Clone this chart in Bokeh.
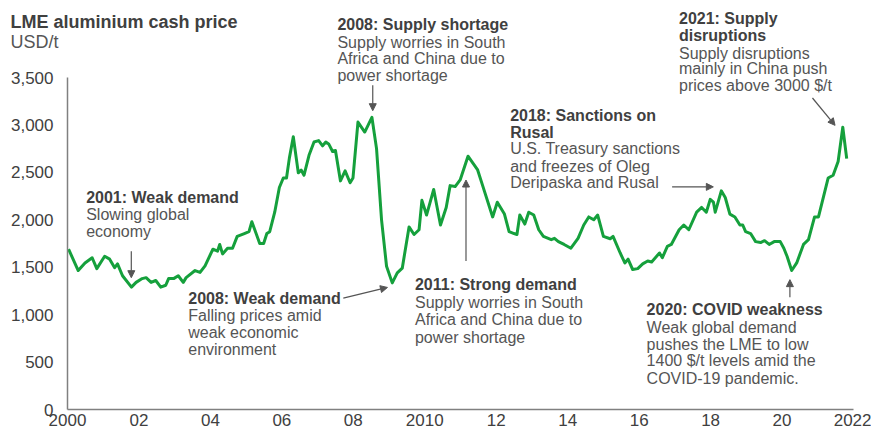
from bokeh.plotting import figure
from bokeh.models import Label, Arrow, NormalHead, FixedTicker, NumeralTickFormatter, Range1d
from bokeh.embed import file_html
from bokeh.resources import INLINE

# ---- data ----
years = [2000.03, 2000.30, 2000.49, 2000.69, 2000.82, 2001.04, 2001.18, 2001.32, 2001.40, 2001.54,
         2001.79, 2001.92, 2002.09, 2002.20, 2002.34, 2002.47, 2002.61, 2002.75, 2002.83, 2002.97,
         2003.10, 2003.24, 2003.32, 2003.57, 2003.71, 2003.85, 2004.07, 2004.20, 2004.26, 2004.34,
         2004.48, 2004.62, 2004.75, 2004.95, 2005.08, 2005.16, 2005.38, 2005.49, 2005.58, 2005.66,
         2005.80, 2005.93, 2006.04, 2006.13, 2006.21, 2006.32, 2006.46, 2006.54, 2006.62, 2006.76,
         2006.90, 2007.03, 2007.14, 2007.23, 2007.31, 2007.42, 2007.50, 2007.64, 2007.77, 2007.91,
         2007.99, 2008.13, 2008.32, 2008.52, 2008.65, 2008.79, 2008.93, 2009.09, 2009.23, 2009.37,
         2009.56, 2009.70, 2009.84, 2009.92, 2010.05, 2010.25, 2010.44, 2010.60, 2010.71, 2010.85,
         2010.99, 2011.21, 2011.48, 2011.62, 2011.90, 2012.03, 2012.23, 2012.36, 2012.50, 2012.58,
         2012.66, 2012.80, 2012.91, 2013.05, 2013.19, 2013.32, 2013.54, 2013.63, 2013.74, 2013.90,
         2014.09, 2014.29, 2014.45, 2014.59, 2014.73, 2014.84, 2015.00, 2015.19, 2015.27, 2015.47,
         2015.60, 2015.69, 2015.82, 2015.96, 2016.10, 2016.24, 2016.35, 2016.57, 2016.65, 2016.79,
         2016.90, 2017.12, 2017.25, 2017.39, 2017.61, 2017.75, 2017.88, 2017.99, 2018.08, 2018.13,
         2018.30, 2018.41, 2018.54, 2018.68, 2018.82, 2018.90, 2018.98, 2019.12, 2019.26, 2019.40,
         2019.51, 2019.64, 2019.78, 2019.95, 2020.05, 2020.14, 2020.27, 2020.41, 2020.60, 2020.74,
         2020.91, 2021.02, 2021.29, 2021.43, 2021.57, 2021.70, 2021.81]
prices = [1690, 1465, 1545, 1600, 1485, 1615, 1585, 1495, 1535, 1410,
          1290, 1340, 1380, 1390, 1340, 1360, 1290, 1310, 1380, 1380,
          1410, 1340, 1390, 1465, 1445, 1515, 1690, 1670, 1740, 1640,
          1700, 1700, 1825, 1855, 1875, 1980, 1750, 1750, 1855, 1875,
          2080, 2340, 2440, 2440, 2650, 2875, 2495, 2525, 2470, 2680,
          2820, 2835, 2780, 2820, 2800, 2720, 2730, 2410, 2515, 2390,
          2440, 3030, 2925, 3080, 2750, 2000, 1510, 1335, 1440, 1490,
          1925, 1845, 1895, 2205, 2050, 2320, 1945, 2130, 2360, 2350,
          2420, 2670, 2525, 2360, 2030, 2185, 2060, 1875, 1855, 1845,
          2050, 1955, 2080, 2050, 1895, 1825, 1790, 1805, 1770, 1740,
          1700, 1805, 1945, 2030, 2000, 2050, 1825, 1800, 1825, 1650,
          1545, 1585, 1475, 1485, 1535, 1565, 1555, 1650, 1600, 1720,
          1740, 1895, 1945, 1895, 2080, 2130, 2080, 2215, 2185, 2080,
          2305, 2235, 2060, 2030, 1945, 1945, 1875, 1855, 1770, 1760,
          1780, 1740, 1770, 1770, 1700, 1615, 1465, 1545, 1740, 1790,
          2030, 2030, 2440, 2470, 2615, 2975, 2645]

x_ticks = [2000, 2002, 2004, 2006, 2008, 2010, 2012, 2014, 2016, 2018, 2020, 2022]
x_tick_labels = ["2000", "02", "04", "06", "08", "2010", "12", "14", "16", "18", "20", "2022"]
y_ticks = [0, 500, 1000, 1500, 2000, 2500, 3000, 3500]

title_text = "LME aluminium cash price"
unit_text = "USD/t"

# ---- layout: the frame fills the whole canvas; axes are drawn at fixed locations ----
W, H = 871, 429
X0, X1, Y0, Y1 = 2000, 2022, 0, 3500
PX_X0, PX_X1 = 67, 853      # canvas x of 2000 and 2022
PX_Y0, PX_Y1 = 409, 77      # canvas y of 0 and 3500
kx = (PX_X1 - PX_X0) / (X1 - X0)
ky = (PX_Y0 - PX_Y1) / (Y1 - Y0)

FONT = "Liberation Sans"
TXT = "#404040"
TXT2 = "#555555"
GREEN = "#15a03c"
ARROW = "#555555"

p = figure(width=W, height=H, output_backend="svg", toolbar_location=None,
           x_range=Range1d(X0 - PX_X0 / kx, X0 + (W - PX_X0) / kx),
           y_range=Range1d(Y0 - (H - PX_Y0) / ky, Y0 + PX_Y0 / ky),
           min_border=0, min_border_left=0, min_border_right=0,
           min_border_top=0, min_border_bottom=0)
p.title.visible = False
p.outline_line_color = None
p.xgrid.visible = False
p.ygrid.visible = False
p.background_fill_color = "white"
p.border_fill_color = "white"

for ax in (p.xaxis[0], p.yaxis[0]):
    ax.axis_line_color = "#808080"
    ax.axis_line_width = 1.5
    ax.major_tick_line_color = None
    ax.minor_tick_line_color = None
    ax.major_tick_out = 0
    ax.major_tick_in = 0
    ax.minor_tick_out = 0
    ax.major_label_text_font = FONT
    ax.major_label_text_font_size = "17px"
    ax.major_label_text_color = TXT

xa = p.xaxis[0]
xa.ticker = FixedTicker(ticks=x_ticks)
xa.major_label_overrides = {t: l for t, l in zip(x_ticks, x_tick_labels)}
xa.major_label_standoff = 4
xa.fixed_location = 0
xa.bounds = (X0, X1)

ya = p.yaxis[0]
ya.ticker = FixedTicker(ticks=y_ticks)
ya.formatter = NumeralTickFormatter(format="0,0")
ya.major_label_standoff = 14
ya.fixed_location = X0
ya.bounds = (Y0, Y1)

p.line(years, prices, line_color=GREEN, line_width=3, line_join="round")


def sx(xp):  # exact canvas position
    return X0 + (xp - PX_X0) / kx


def sy(yp):
    return Y0 + (PX_Y0 - yp) / ky


def rx(xp):  # position on the reference's own data scale
    return 2000 + (xp - 67) / 36.4


def ry(yp):
    return (417 - yp) * 3500 / 340


def lab(x, y, text, bold=False, size="16px", color=None):
    p.add_layout(Label(x=x, y=y, text=text, text_font=FONT, text_font_size=size,
                       text_font_style="bold" if bold else "normal",
                       text_color=color or (TXT if bold else TXT2),
                       text_baseline="middle", text_align="left"))


lab(sx(10), sy(21), title_text, bold=True, size="18px")
lab(sx(10), sy(41), unit_text, size="18px")

notes = [
    (86, [(200, "2001: Weak demand", True), (217, "Slowing global", False), (235, "economy", False)]),
    (190, [(303, "2008: Weak demand", True), (321, "Falling prices amid", False),
           (338, "weak economic", False), (356, "environment", False)]),
    (342, [(23, "2008: Supply shortage", True), (41, "Supply worries in South", False),
           (58, "Africa and China due to", False), (75, "power shortage", False)]),
    (421, [(289, "2011: Strong demand", True), (307, "Supply worries in South", False),
           (325, "Africa and China due to", False), (343, "power shortage", False)]),
    (518, [(116, "2018: Sanctions on", True), (133, "Rusal", True), (150, "U.S. Treasury sanctions", False),
           (168, "and freezes of Oleg", False), (185, "Deripaska and Rusal", False)]),
    (657, [(315, "2020: COVID weakness", True), (333, "Weak global demand", False),
           (350, "pushes the LME to low", False), (367, "1400 $/t levels amid the", False),
           (385, "COVID-19 pandemic.", False)]),
    (690, [(17, "2021: Supply", True), (34, "disruptions", True), (52, "Supply disruptions", False),
           (68, "mainly in China push", False), (85, "prices above 3000 $/t", False)]),
]
for xp, lines in notes:
    for yp, t, b in lines:
        lab(rx(xp), ry(yp), t, bold=b)

arrows = [
    ((132, 255), (132, 282)),
    ((348, 303), (393, 292)),
    ((378, 85), (378, 111)),
    ((473, 265), (473, 182)),
    ((683, 189), (725, 189)),
    ((803, 302), (803, 284)),
    ((826, 98), (849, 126)),
]
for (x0, y0), (x1, y1) in arrows:
    p.add_layout(Arrow(end=NormalHead(size=7, fill_color=ARROW, line_color=ARROW),
                       x_start=rx(x0), y_start=ry(y0), x_end=rx(x1), y_end=ry(y1),
                       line_color=ARROW, line_width=1.2))

open("out.html", "w").write(file_html(p, INLINE))
